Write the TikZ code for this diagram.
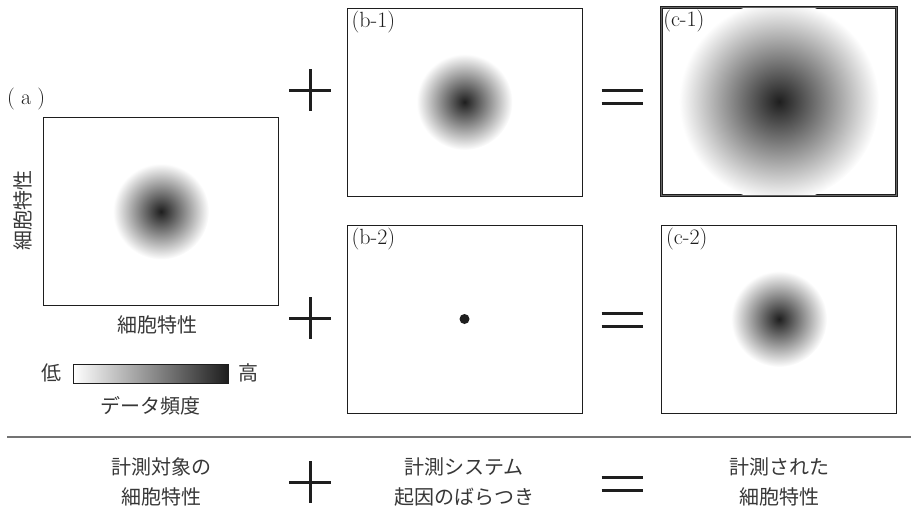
\documentclass[tikz,border=0pt]{standalone}
\usepackage{fontspec}
\newfontfamily\jpfont{Noto Sans CJK JP}
\definecolor{ink}{RGB}{30,30,30}
\definecolor{jpink}{RGB}{55,55,55}
\definecolor{rulegray}{RGB}{115,115,115}
\tikzset{
  panel/.style={rectangle,draw=ink,line width=1pt,
                minimum width=235pt,minimum height=188pt,inner sep=0pt},
  tag/.style={anchor=north west,inner sep=0pt,text=ink,
              font=\fontsize{22}{22}\selectfont},
  jp/.style={inner sep=0pt,align=center,text=jpink,
             font=\jpfont\fontsize{20}{30}\selectfont},
  blob/.style={shading=radial,inner color=ink,outer color=white},
  opline/.style={draw=ink,line cap=butt},
  plussign/.pic={\draw[opline,line width=3pt] (-21,0) -- (21,0) (0,-21) -- (0,21);},
  eqsign/.pic={\draw[opline,line width=3.6pt] (-20.5,-6.5) -- (20.5,-6.5)
                                             (-20.5,6.5) -- (20.5,6.5);},
}

\begin{document}
\begin{tikzpicture}[x=1pt,y=-1pt]
  \useasboundingbox (0,0) rectangle (911,525);
  % (a) measured object
  \node[panel] (pa) at (161,211.5) {};
  \shade[blob] (pa.center) circle (48pt);
  \node[tag,anchor=west] (taga) at (7,99) {(\;a\;)};
  \node[jp,rotate=90] (ylab) at (23,210) {細胞特性};
  \node[jp] (xlab) at (157,325) {細胞特性};
  \node[draw=ink,line width=0.9pt,minimum width=155pt,minimum height=19pt,
        inner sep=0pt,left color=white,right color=ink] (cbar) at (150.5,373.5) {};
  \node[jp] (low) at (51,373) {低};
  \node[jp] (high) at (248,373) {高};
  \node[jp] (freq) at (150,406) {データ頻度};
  % (b) system spread
  \node[panel] (pb1) at (464.5,102) {};
  \shade[blob] (pb1.center) circle (48pt);
  \node[tag] (tagb1) at ([xshift=5pt,yshift=-3pt]pb1.north west) {(b-1)};
  \node[panel] (pb2) at (464.5,319) {};
  \node[tag] (tagb2) at ([xshift=5pt,yshift=-3pt]pb2.north west) {(b-2)};
  \node[circle,fill=ink,inner sep=0pt,minimum size=10pt] (dot) at (pb2.center) {};
  % (c) measured result
  \node[panel,line width=0.9pt,double=black!60,double distance=0.6pt] (pc1) at (779,101.5) {};
  \begin{scope}
    \clip ([xshift=1.3pt,yshift=-1.3pt]pc1.north west) rectangle ([xshift=-1.3pt,yshift=1.3pt]pc1.south east);
    \shade[blob] (pc1.center) circle (100pt);
  \end{scope}
  \node[tag] (tagc1) at ([xshift=2pt,yshift=-3pt]pc1.north west) {(c-1)};
  \node[panel] (pc2) at (779,319) {};
  \shade[blob] (pc2.center) circle (48pt);
  \node[tag] (tagc2) at ([xshift=5pt,yshift=-3pt]pc2.north west) {(c-2)};
  % operators
  \pic at (310,90) {plussign};
  \pic at (310,318) {plussign};
  \pic at (622,97) {eqsign};
  \pic at (622,320) {eqsign};
  % legend row
  \coordinate (ruleL) at (7,437);
  \coordinate (ruleR) at (911,437);
  \draw[rulegray,line width=1.6pt] (ruleL) -- (ruleR);
  \node[jp] (sumA) at (161,482) {計測対象の\\細胞特性};
  \node[jp] (sumB) at (464,482) {計測システム\\起因のばらつき};
  \node[jp] (sumC) at (779,482) {計測された\\細胞特性};
  \pic at (310,482) {plussign};
  \pic at (622,484) {eqsign};
\end{tikzpicture}
\end{document}
